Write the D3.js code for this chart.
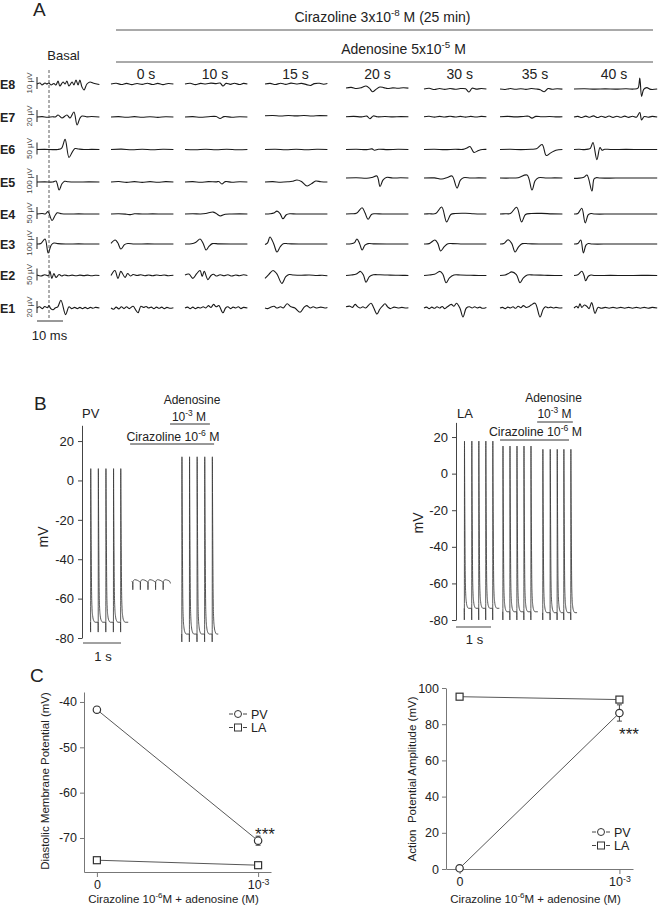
<!DOCTYPE html>
<html><head><meta charset="utf-8">
<script src="https://cdn.jsdelivr.net/npm/d3@7"></script>
<style>html,body{margin:0;padding:0;background:#fff;} svg{display:block;font-family:"Liberation Sans",Arial,sans-serif;}</style>
</head><body><div id="chart"></div>
<script>
// ---------------- DATA ----------------
// Panel A: unipolar electrograms, [time (ms), amplitude (µV)]
const rowNames = ["E8","E7","E6","E5","E4","E3","E2","E1"];
const rowCalibration = [10,20,50,100,50,100,50,20]; // µV calibration bars
const columnLabels = ["0 s","10 s","15 s","20 s","30 s","35 s","40 s"];
const columnDurations = [24,24,24,24,24,24,24,32]; // ms: basal + 7 time points

const traceE8 = [
 [[0,0],[1.2,0.8],[1.9,-0.8],[3.1,0.8],[3.8,0],[4.6,0.8],[5.4,-0.8],[6.5,0.4],[7.3,-0.8],[8.1,2.5],[8.8,-1.7],[10,1.7],[10.8,0],[11.5,2.5],[12.3,-1.7],[13.5,1.7],[14.2,-0.8],[15,3.3],[15.8,-0.8],[16.5,3.3],[17.3,-2.5],[18.1,-5],[19.2,0],[20.4,1.7],[21.5,0.8],[23,0],[24,-0.4]],
 [[0,0],[2,0.6],[4,-0.4],[6,0.5],[8,-0.5],[10,0.4],[12,-0.3],[14,0.6],[16,-0.4],[18,0.5],[20,-0.5],[22,0.4],[24,0]],
 [[0,0],[2,0.6],[4,-0.5],[6,0.5],[8,0],[10,0.7],[12,0.3],[13.5,0.8],[14.6,-1.7],[15.8,0.5],[17.5,-0.3],[19,0.6],[21,-0.4],[22.5,0.5],[24,0]],
 [[0,0],[2,0.5],[4,-0.4],[6,0.6],[8,-0.3],[10,0.7],[12,0],[14,0.5],[16,-0.5],[17.5,-1.2],[19,0.3],[21,0.6],[22.5,-0.2],[24,0.4]],
 [[0,-3.3],[2,-2.8],[4,-3.8],[6,-3],[7.7,-1.7],[9,-3.5],[10.2,-6.5],[11.5,-4.5],[13,-2.5],[14.5,-3],[16,-3.8],[18,-3.2],[20,-3.6],[22,-3.1],[24,-3.4]],
 [[0,-4.2],[2,-3.6],[4,-4.6],[6,-3.8],[8,-4.5],[10,-3.7],[12,-4.4],[14,-3.8],[16,-4],[17.3,-6.7],[18.5,-3.5],[20,-4.3],[22,-3.8],[24,-4.2]],
 [[0,-4.2],[2,-4.6],[4,-3.8],[6,-4.4],[8,-3.9],[10,-4.5],[12,-3.8],[14,-4.2],[15.5,-4.8],[17,-6.5],[18.5,-3.8],[20,-4.4],[22,-3.9],[24,-4.3]],
 [[0,-4.2],[4,-4],[8,-4.3],[12,-4.1],[16,-4.3],[20,-4],[23,-4.2],[24.6,-3.5],[25.3,5],[26,-10.3],[26.8,-4.5],[28,-3],[29.5,-4.5],[32,-4.2]]
];
const traceE7 = [
 [[0,0],[2,0.6],[4,-0.4],[6,0.5],[7,0],[8.1,3.3],[9.6,-1.7],[11.5,3.3],[12.7,-1.7],[14.2,8.3],[15.4,-13.3],[16.5,-2],[17.3,1.7],[19,0.3],[21,0.8],[24,0]],
 [[0,0],[3,0.7],[6,-0.5],[9,0.6],[12,-0.4],[15,0.5],[18,-0.6],[21,0.5],[24,0]],
 [[0,0],[3,0.6],[6,-0.4],[9,0.5],[12,0.8],[13.5,-2.5],[15,0.6],[18,-0.3],[21,0.5],[24,0]],
 [[0,2],[3,2.6],[6,1.6],[9,2.4],[12,1.8],[15,2.5],[18,1.7],[21,2.3],[24,2]],
 [[0,0.5],[3,1],[6,0.2],[8,1.5],[9.2,-2.8],[10.5,1.8],[12,0.3],[15,0.8],[18,0.2],[21,0.7],[24,0.4]],
 [[0,0.5],[2,1.2],[4,-0.2],[6,1],[8,0],[10,1.2],[12,0.1],[14,1],[16,-0.2],[18,1],[20,0],[22,1],[24,0.4]],
 [[0,0.5],[3,1],[6,0.2],[9,0.9],[11,1.2],[12.3,-1.8],[13.8,1],[16,0.3],[19,0.8],[22,0.2],[24,0.5]],
 [[0,0],[1.5,1],[3,-0.8],[4.5,1.5],[6,-0.5],[7.5,1.8],[9,-0.8],[10.5,1.2],[12,-0.6],[13.5,1.6],[15,-0.7],[16.5,1.3],[18,-0.5],[19.5,1.5],[21,-0.6],[22.5,1.2],[24,-0.3],[25.3,7.5],[26,-5],[27,0.8],[28.5,-0.5],[30,1],[32,0]]
];
const traceE6 = [
 [[0,0],[3,0.5],[6,-0.5],[8,0],[9.5,6],[10.8,42],[12.3,-33],[13.5,-12],[14.6,4],[16,2],[18,0],[21,0.5],[24,0]],
 [[0,0],[4,1.5],[8,-1],[12,1],[16,-1],[20,1],[24,0]],
 [[0,0],[4,-1],[8,1],[12,-1],[16,1.2],[20,-0.8],[24,0]],
 [[0,0],[4,1],[8,-1],[12,0.8],[16,-1],[20,1],[24,0]],
 [[0,0],[4,1],[8,-0.5],[10,2.5],[11,-3],[12.5,1],[16,-0.5],[20,0.8],[24,0]],
 [[0,0],[4,1],[8,-0.5],[12,1],[15,0.5],[16.5,6],[17.7,12.5],[19.2,-12],[21,-4],[22.5,0],[24,0.5]],
 [[0,0],[4,0.8],[8,-0.5],[12,1],[14,3],[16.2,21],[17.8,-25],[19.5,-14],[21.5,-3],[24,0]],
 [[0,0],[2,1],[4,-0.5],[5.5,1.5],[6.3,5],[7.3,29],[8.8,-42],[10,8],[10.8,-3],[11.8,1],[14,0],[20,0.5],[26,0],[32,0]]
];
const traceE5 = [
 [[0,0],[3,1],[6,0],[7.3,8],[8.5,-67],[9.6,-15],[10.6,6],[12,2],[15,0],[20,1],[24,0]],
 [[0,0],[3,4],[6,-3],[9,3],[12,-3],[15,3],[18,-2],[21,3],[24,0]],
 [[0,0],[3,3],[6,-2],[9,3],[12,1],[13,4],[14.2,-17],[15.5,3],[18,-2],[21,2],[24,0]],
 [[0,0],[3,3],[6,-2],[9,2],[10.5,6],[12.3,17],[14,5],[16.2,-33],[18,-12],[19.5,8],[21.5,2],[24,0]],
 [[0,33],[4,36],[8,31],[10,38],[11.9,50],[13.1,-37],[14.2,15],[15.5,38],[18,33],[21,35],[24,33]],
 [[0,33],[4,34],[6.9,25],[9,38],[10.8,50],[12.7,-50],[14,15],[15.2,36],[18,33],[21,34],[24,33]],
 [[0,33],[4,33],[7,36],[10.4,58],[12.3,-67],[13.5,10],[14.8,36],[18,33],[21,34],[24,33]],
 [[0,30],[2,32],[3.8,40],[5,58],[6.9,-75],[7.7,25],[8.5,36],[10,33],[16,33],[24,33],[32,33]]
];
const traceE4 = [
 [[0,0],[2,2],[3.2,0],[4.2,10],[5.8,-27],[7,-5],[7.8,5],[9.5,1],[12,0],[16,0.5],[20,0],[24,0]],
 [[0,0],[3,1],[6,-1],[7.5,-2.5],[9,1],[12,0],[16,0.5],[20,0],[24,0]],
 [[0,0],[3,1],[6,0],[8,2],[10.8,8],[12,2],[13.5,-8],[15.5,-1],[18,0],[21,0.5],[24,0]],
 [[0,0],[2,1],[3.4,4],[4.6,12],[5.8,2],[6.9,-20],[8.2,-3],[9.5,1],[12,0],[18,0],[24,0]],
 [[0,0],[2,1],[4,3],[6.2,26],[7.3,5],[8.5,-22],[9.8,-2],[11,1],[14,0],[18,0],[24,0]],
 [[0,0],[2,1],[4.5,2],[6.8,29],[8.7,-33],[10.3,-2],[12,2],[16,3],[19,1],[22,0],[24,0]],
 [[0,0],[2,1],[4,2],[6.4,28],[8.3,-33],[9.8,-2],[12,2],[16,2.5],[20,0.5],[24,0]],
 [[0,0],[1.5,2],[3,24],[4.3,-37],[5.5,-3],[6.5,2],[8,0],[14,0],[20,0],[26,0],[32,0]]
];
const traceE3 = [
 [[0,0],[1.5,4],[3.1,42],[4.3,-75],[5.5,-8],[6.5,8],[8,3],[11,0],[16,1],[20,0],[24,0]],
 [[0,5],[1.6,33],[2.6,10],[3.8,-42],[5.2,-5],[6.5,4],[9,0],[14,1],[19,0],[24,0]],
 [[0,0],[2.5,2],[4.2,15],[5.8,42],[7,5],[8.1,-50],[9.2,-20],[10.5,3],[13,1],[18,0],[24,0]],
 [[0,-5],[1,10],[1.9,58],[3.3,5],[4.6,-67],[5.8,-25],[7,3],[9,2],[13,0],[18,0.5],[24,0]],
 [[0,0],[2,2],[3.3,12],[4.2,42],[5.2,5],[6.2,-50],[7.3,-10],[8.5,3],[11,1],[16,0],[24,0]],
 [[0,0],[2,3],[4.2,33],[5.3,5],[6.4,-58],[7.8,-22],[9.2,2],[11,3],[15,0],[20,0],[24,0]],
 [[0,0],[1.5,4],[3.1,35],[4.5,5],[5.8,-67],[7.2,-22],[8.6,3],[11,2],[15,0],[24,0]],
 [[0,0],[1.5,4],[2.6,33],[3.6,-75],[4.6,-10],[5.5,4],[7,0],[14,0],[22,0],[32,0]]
];
const traceE2 = [
 [[0,2],[1.5,-2],[3,3],[4.4,-1],[5,17],[5.7,-12],[6.5,8],[7.3,-8],[8.5,4],[9.5,-2],[10.5,2],[12,-1],[13.5,1.5],[15,-1],[16.5,1.5],[18,-0.5],[19.5,1.5],[21,-1],[22.5,1],[24,0]],
 [[0,0],[1.5,21],[2.7,-12],[3.8,17],[5.4,-8],[6.4,8],[7.5,-2],[8.5,4],[10,0],[11.5,3],[13,-1],[14.5,2],[16,-1],[17.5,2],[19,0],[20.5,2],[22,-1],[24,1]],
 [[0,2],[1.5,6],[3,-12],[4.5,8],[5.8,21],[6.6,-4],[7.4,17],[8.8,-17],[10,0],[11,5],[12,-2],[13.5,3],[15,-1],[16.5,3],[18,-2],[19.5,2],[21,-1],[22.5,3],[24,0]],
 [[0,-12],[1.5,5],[3.1,21],[4.5,8],[6.5,-33],[8,-5],[9.3,4],[11,2],[14,1],[17,2],[20,0],[22,1],[24,-1]],
 [[0,0],[2,2],[4,6],[5.6,17],[6.7,2],[7.7,-28],[9,-5],[10.5,3],[13,3],[16,2],[19,1],[22,0.5],[24,0]],
 [[0,0],[2,2],[4,5],[6.2,17],[7.3,4],[8.5,-30],[9.8,-10],[11.5,2],[14,2],[18,1],[21,0],[24,0]],
 [[0,0],[2,2],[3.2,8],[4.5,15],[6.3,4],[7.7,-30],[9,-10],[10.5,2],[13,2],[17,1],[21,0],[24,0]],
 [[0,0],[1.5,3],[3,18],[3.8,2],[4.5,-22],[5.5,-3],[6.5,2],[8,0],[14,0.5],[20,0],[26,0.5],[32,0]]
];
const traceE1 = [
 [[0,0],[1,2],[2,-1],[3,2.5],[4,0.5],[4.6,4],[5.3,-1],[6.2,-3],[7,0],[8,2],[9.2,13],[11,-11],[12.3,2],[13.3,-1],[14.5,1],[15.5,-1],[16.5,1],[17.5,-1],[18.5,1],[19.5,-1],[20.5,1],[21.5,-0.5],[22.5,1],[24,0]],
 [[0,0],[1,-2],[2,1.5],[3,-1.5],[4,2],[5,-1],[6,2],[7,-1],[8.5,3],[9.6,-4],[10.4,-8],[11.5,3],[12.5,1],[13.5,2.5],[14.5,0],[15.5,1.5],[16.5,-1],[17.5,1.5],[18.5,-0.5],[19.5,1.5],[20.5,-1],[21.5,1],[22.5,-0.5],[24,0.5]],
 [[0,0],[1,1.5],[2,-1],[3,1.5],[4,-1],[5,1],[6,0],[7,2],[8,0],[9,4],[10,1],[11,6],[12,2],[13,4],[14.6,-8],[15.6,0],[16.5,2],[17.5,-1],[18.5,1.5],[19.5,0],[20.5,2],[21.5,-1],[22.5,1],[24,0]],
 [[0,0],[1,-1],[2,1],[3.5,3],[4.5,0],[6,2],[7,0],[8.5,7],[10,2],[11.5,0],[13.5,-7],[15,1],[16,4],[17.5,0],[18.5,2],[20,0],[21.5,1.5],[23,0],[24,1]],
 [[0,2],[1.5,3],[2.5,1],[3.5,6],[4.5,2],[5.5,0],[6.5,2],[7.5,0],[9.6,8],[10.6,1],[11.9,-10],[13,-2],[14,3],[15,7],[16,2],[17,-1],[18.5,1.5],[20,0],[21.5,1],[23,0],[24,0.5]],
 [[0,0],[1,1.5],[2,-1],[3,1.5],[4,-0.5],[5,2],[6,0],[7,2.5],[8,-1],[9,2],[10.5,6],[11.5,3],[12.5,8],[13.8,0],[15,-15],[16.3,0],[17.5,2],[18.5,0],[19.5,2],[20.5,0],[21.5,1.5],[22.5,-0.5],[24,1]],
 [[0,0],[1,1],[2,-1],[3,1.5],[4,0],[5,2],[6,-0.5],[7,3],[8,0.5],[9,4],[10,1],[11,2],[12,5],[13.5,8],[15.4,-15],[16.6,-2],[17.5,2],[18.5,0.5],[19.5,1.5],[20.5,0],[21.5,1],[23,0],[24,0.5]],
 [[0,0],[1,3],[1.6,0],[2.3,7],[3,1],[4,5],[4.9,3],[5.8,-1],[6.8,9],[8.1,-9],[9.2,1],[10.5,-0.5],[12,1],[13.5,-0.5],[15,1],[16.5,-0.5],[18,1],[19.5,-0.5],[21,1],[22.5,-0.5],[24,1],[25.5,-0.5],[27,1],[28.5,-0.5],[30,1],[32,0]]
];

// Panel B: action potentials (time s, mV)
const bTicks = [-80,-60,-40,-20,0,20];
const apShapeTime = [0.004,0.007,0.016,0.026,0.038,0.055,0.08,0.12]; // s after stimulus
const apShapeFrac = [1,0.85,0.5,0.2,0.09,0.04,0.012,0];               // fraction of (peak - rest)
const pvSegments = [
 {spikes:[0.20,0.40,0.60,0.80,0.99], rest:-72, peak:6, artifact:-77, end:1.19},
 {spikes:[2.60,2.80,3.00,3.20,3.40], rest:-78, peak:12, artifact:-82, end:3.56}
];
const pvCirazolineTicks = [1.31,1.51,1.71,1.91,2.11];
const ciraShapeTime = [-0.003,0,0.004,0.05,0.12,0.18];
const ciraShapeMv = [-51.6,-55.5,-51.4,-50.4,-50.7,-51.4];
const laSegments = [
 {spikes:[0.21,0.42,0.62,0.82,1.02], rest:-73.6, peak:17.8, artifact:-80, end:1.21},
 {spikes:[1.31,1.51,1.71,1.91,2.11], rest:-75.5, peak:15.1, artifact:-80, end:2.31},
 {spikes:[2.45,2.66,2.86,3.05,3.25], rest:-76, peak:13.3, artifact:-80, end:3.43}
];
const pvDrugBars = {cirazoline:[1.24,3.45], adenosine:[2.29,3.34]}; // s
const laDrugBars = {cirazoline:[1.23,3.20], adenosine:[2.29,3.31]};

// Panel C
const cCategories = ["0","10-3"];
const dmpPV = [-41.7,-70.6], dmpPVsem = [0.6,1.0];
const dmpLA = [-74.9,-76.0], dmpLAsem = [0.4,0.5];
const dmpTicks = [-40,-50,-60,-70];
const apaPV = [0.4,86.2], apaPVsem = [0.8,4.5];
const apaLA = [95.2,93.6], apaLAsem = [1.5,1.6];
const apaTicks = [0,20,40,60,80,100];

// ---------------- DRAWING ----------------
const W=659,H=908;
const svg=d3.select("#chart").append("svg").attr("width",W).attr("height",H);
svg.append("rect").attr("width",W).attr("height",H).attr("fill","#fff");
const TXT="#222";
const plainFmt=d=>String(d);

function richText(parent,x,y,parts,size,anchor){
  const t=parent.append("text").attr("x",x).attr("y",y).attr("font-size",size)
    .attr("text-anchor",anchor||"middle").attr("fill",TXT);
  let shifted=false;
  parts.forEach(([s,sup])=>{
    const ts=t.append("tspan").text(s);
    if(sup){ ts.attr("font-size",size*0.7); if(!shifted){ts.attr("dy",-size*0.4);shifted=true;} }
    else if(shifted){ ts.attr("dy",size*0.4); shifted=false; }
  });
  return t;
}
function label(parent,x,y,s,size,opts={}){
  return parent.append("text").attr("x",x).attr("y",y).attr("font-size",size)
    .attr("text-anchor",opts.anchor||"start").attr("font-weight",opts.bold?"bold":null)
    .attr("fill",opts.fill||TXT).text(s);
}

// ---- Panel A ----
const gA=svg.append("g");
label(gA,33,15.5,"A",19);
gA.append("line").attr("x1",116).attr("x2",653).attr("y1",30).attr("y2",30).attr("stroke","#555");
gA.append("line").attr("x1",116).attr("x2",653).attr("y1",62).attr("y2",62).attr("stroke","#555");
richText(gA,382.5,22,[["Cirazoline 3x10"],["-8",true],[" M (25 min)"]],14);
richText(gA,403.5,54,[["Adenosine 5x10"],["-5",true],[" M"]],14);
label(gA,63.5,60,"Basal",13,{anchor:"middle"});
const colLabelX=[146,215,295.5,377.5,459.7,535,614];
columnLabels.forEach((s,i)=>label(gA,colLabelX[i],79,s,14,{anchor:"middle"}));

const rowY=[84,117,149.5,182,214,244,275.5,308];
const colX0=[37,111,185,265,346,424,500,574];
const pxPerMs=2.6, calPx=12;
const allTraces=[traceE8,traceE7,traceE6,traceE5,traceE4,traceE3,traceE2,traceE1];
rowNames.forEach((name,i)=>{
  const base=rowY[i];
  label(gA,0,base+4.5,name,12.5,{bold:true});
  gA.append("text").attr("transform",`translate(31.5,${base-1}) rotate(-90)`)
    .attr("text-anchor","middle").attr("font-size",8).attr("fill","#444").text(rowCalibration[i]+" µV");
  gA.append("line").attr("x1",37).attr("x2",37).attr("y1",base-7).attr("y2",base+5)
    .attr("stroke","#222").attr("stroke-width",1);
  const y=d3.scaleLinear().domain([0,rowCalibration[i]]).range([base,base-calPx]);
  allTraces[i].forEach((pts,j)=>{
    const x=d3.scaleLinear().domain([0,columnDurations[j]]).range([colX0[j],colX0[j]+columnDurations[j]*pxPerMs]);
    const line=d3.line().x(d=>x(d[0])).y(d=>y(d[1])).curve(d3.curveCatmullRom.alpha(0.5));
    gA.append("path").attr("d",line(pts)).attr("fill","none").attr("stroke","#1a1a1a")
      .attr("stroke-width",1.1).attr("stroke-linejoin","round");
  });
});
gA.append("line").attr("x1",49).attr("x2",49).attr("y1",70).attr("y2",318)
  .attr("stroke","#333").attr("stroke-width",0.8).attr("stroke-dasharray","3,2");
gA.append("line").attr("x1",37).attr("x2",37+10*pxPerMs).attr("y1",321).attr("y2",321).attr("stroke","#333");
label(gA,49.5,340,"10 ms",13,{anchor:"middle"});

// ---- Panel B ----
const gB=svg.append("g");
label(gB,34,410,"B",19);
function apPoints(seg){
  const pts=[];
  seg.spikes.forEach((s)=>{
    pts.push([s-0.003,seg.rest]);
    pts.push([s,seg.artifact]);
    apShapeTime.forEach((dt,m)=>pts.push([s+dt,seg.rest+apShapeFrac[m]*(seg.peak-seg.rest)]));
  });
  pts.push([seg.end,seg.rest]);
  return pts;
}
function drawAPPanel(g,axisX,yTop,yBottom,pxPerS,segs,extra){
  const y=d3.scaleLinear().domain([-80,28]).range([yBottom,yTop]);
  const x=d3.scaleLinear().domain([0,4]).range([axisX+1,axisX+1+4*pxPerS]);
  const ax=g.append("g").attr("transform",`translate(${axisX},0)`)
    .call(d3.axisLeft(y).tickValues(bTicks).tickFormat(plainFmt).tickSize(4).tickPadding(4).tickSizeOuter(0));
  ax.attr("font-size",13).attr("font-family",null);
  ax.selectAll("path,line").attr("stroke","#444");
  ax.selectAll("text").attr("fill",TXT);
  const line=d3.line().x(d=>x(d[0])).y(d=>y(d[1])).curve(d3.curveMonotoneX);
  segs.forEach(seg=>g.append("path").attr("d",line(apPoints(seg))).attr("fill","none")
    .attr("stroke","#3a3a3a").attr("stroke-width",0.85));
  if(extra) g.append("path").attr("d",line(extra)).attr("fill","none").attr("stroke","#3a3a3a").attr("stroke-width",0.85);
  return {x,y};
}
// PV
const pvCira=[[1.28,-51.3]];
pvCirazolineTicks.forEach(t=>ciraShapeTime.forEach((dt,m)=>pvCira.push([t+dt,ciraShapeMv[m]])));
pvCira.push([2.30,-52.3]);
const pv=drawAPPanel(gB,82,425.3,638,38,pvSegments,pvCira);
gB.append("line").attr("x1",pv.x(0)).attr("x2",pv.x(1)).attr("y1",643).attr("y2",643).attr("stroke","#444");
label(gB,103,661,"1 s",13,{anchor:"middle"});
gB.append("text").attr("transform","translate(48,537) rotate(-90)").attr("text-anchor","middle")
  .attr("font-size",14).attr("fill",TXT).text("mV");
label(gB,82,417.5,"PV",13);
label(gB,192,404,"Adenosine",12,{anchor:"middle"});
richText(gB,189,420.5,[["10"],["-3",true],[" M"]],12);
richText(gB,173,441,[["Cirazoline 10"],["-6",true],[" M"]],12.3);
gB.append("line").attr("x1",pv.x(pvDrugBars.adenosine[0])).attr("x2",pv.x(pvDrugBars.adenosine[1])).attr("y1",424).attr("y2",424).attr("stroke","#333");
gB.append("line").attr("x1",pv.x(pvDrugBars.cirazoline[0])).attr("x2",pv.x(pvDrugBars.cirazoline[1])).attr("y1",444).attr("y2",444).attr("stroke","#333");
// LA
const la=drawAPPanel(gB,456,422.4,620,35,laSegments,null);
gB.append("line").attr("x1",la.x(0)-1).attr("x2",la.x(1)-1).attr("y1",627).attr("y2",627).attr("stroke","#444");
label(gB,474.5,644,"1 s",13,{anchor:"middle"});
gB.append("text").attr("transform","translate(423,523) rotate(-90)").attr("text-anchor","middle")
  .attr("font-size",14).attr("fill",TXT).text("mV");
label(gB,457,417.5,"LA",13);
label(gB,553.5,402,"Adenosine",12,{anchor:"middle"});
richText(gB,554.5,417.5,[["10"],["-3",true],[" M"]],12);
richText(gB,535.5,435.5,[["Cirazoline 10"],["-6",true],[" M"]],12.3);
gB.append("line").attr("x1",la.x(laDrugBars.adenosine[0])).attr("x2",la.x(laDrugBars.adenosine[1])).attr("y1",422).attr("y2",422).attr("stroke","#333");
gB.append("line").attr("x1",la.x(laDrugBars.cirazoline[0])).attr("x2",la.x(laDrugBars.cirazoline[1])).attr("y1",440).attr("y2",440).attr("stroke","#333");

// ---- Panel C ----
const gC=svg.append("g");
label(gC,30,682,"C",19);
function drawScatter(g,opt){
  const x=d3.scalePoint().domain(cCategories).range([opt.x0,opt.x1]).padding(opt.pad);
  const y=d3.scaleLinear().domain(opt.domain).range([opt.yb,opt.yt]);
  const xa=g.append("g").attr("transform",`translate(0,${opt.yb})`)
    .call(d3.axisBottom(x).tickSize(5).tickPadding(3).tickSizeOuter(0));
  const ya=g.append("g").attr("transform",`translate(${opt.x0},0)`)
    .call(d3.axisLeft(y).tickValues(opt.ticks).tickFormat(plainFmt).tickSize(4).tickPadding(3).tickSizeOuter(0));
  [xa,ya].forEach(a=>{a.attr("font-size",12.5).attr("font-family",null);
    a.selectAll("path,line").attr("stroke","#777"); a.selectAll("text").attr("fill",TXT);});
  xa.selectAll(".tick text").each(function(d){
    if(d==="10-3"){const t=d3.select(this);t.text("");t.append("tspan").text("10");
      t.append("tspan").attr("dy","-0.45em").attr("font-size","70%").text("-3");}
  });
  const line=d3.line().x((d,i)=>x(cCategories[i])).y(d=>y(d));
  [opt.pv,opt.la].forEach(vals=>
    g.append("path").attr("d",line(vals)).attr("fill","none").attr("stroke","#444").attr("stroke-width",0.9));
  [[opt.pv,opt.pvSem],[opt.la,opt.laSem]].forEach(([vals,sem])=>vals.forEach((v,i)=>{
    const cx=x(cCategories[i]);
    g.append("line").attr("x1",cx).attr("x2",cx).attr("y1",y(v-sem[i])).attr("y2",y(v+sem[i])).attr("stroke","#444");
    [v-sem[i],v+sem[i]].forEach(e=>g.append("line").attr("x1",cx-2.5).attr("x2",cx+2.5).attr("y1",y(e)).attr("y2",y(e)).attr("stroke","#444"));
  }));
  opt.la.forEach((v,i)=>g.append("rect").attr("x",x(cCategories[i])-3.5).attr("y",y(v)-3.5).attr("width",7).attr("height",7)
    .attr("fill","#fff").attr("stroke","#333").attr("stroke-width",1.2));
  opt.pv.forEach((v,i)=>g.append("circle").attr("cx",x(cCategories[i])).attr("cy",y(v)).attr("r",3.7)
    .attr("fill","#fff").attr("stroke","#333").attr("stroke-width",1.2));
  // legend
  const L=opt.legend;
  [["PV",L[1]],["LA",L[1]+13.5]].forEach(([nm,ly])=>{
    g.append("line").attr("x1",L[0]).attr("x2",L[0]+4).attr("y1",ly).attr("y2",ly).attr("stroke","#444");
    g.append("line").attr("x1",L[0]+14).attr("x2",L[0]+18).attr("y1",ly).attr("y2",ly).attr("stroke","#444");
    if(nm==="PV") g.append("circle").attr("cx",L[0]+9).attr("cy",ly).attr("r",3.5).attr("fill","#fff").attr("stroke","#333");
    else g.append("rect").attr("x",L[0]+5.5).attr("y",ly-3.5).attr("width",7).attr("height",7).attr("fill","#fff").attr("stroke","#333");
    label(g,L[0]+22,ly+4.5,nm,12.5);
  });
  label(g,opt.star[0],opt.star[1],"***",17,{anchor:"middle"});
  richText(g,(opt.x0+opt.x1)/2-4,903,[["Cirazoline 10"],["-6",true],["M + adenosine (M)"]],11.5);
  g.append("text").attr("transform",`translate(${opt.ylab[0]},${opt.ylab[1]}) rotate(-90)`)
    .attr("text-anchor","middle").attr("font-size",11.5).attr("fill",TXT).text(opt.ytitle);
}
drawScatter(gC,{x0:84,x1:271,pad:0.08,yb:872,yt:692,domain:[-77.5,-37.8],ticks:dmpTicks,
  pv:dmpPV,pvSem:dmpPVsem,la:dmpLA,laSem:dmpLAsem,legend:[229,714],star:[265,839.5],
  ylab:[49,781],ytitle:"Diastolic Membrane Potential (mV)"});
drawScatter(gC,{x0:446,x1:633,pad:0.085,yb:869,yt:688,domain:[0,100],ticks:apaTicks,
  pv:apaPV,pvSem:apaPVsem,la:apaLA,laSem:apaLAsem,legend:[592,832],star:[629,739.5],
  ylab:[416,779],ytitle:"Action\u00a0 Potential Amplitude (mV)"});
</script></body></html>
